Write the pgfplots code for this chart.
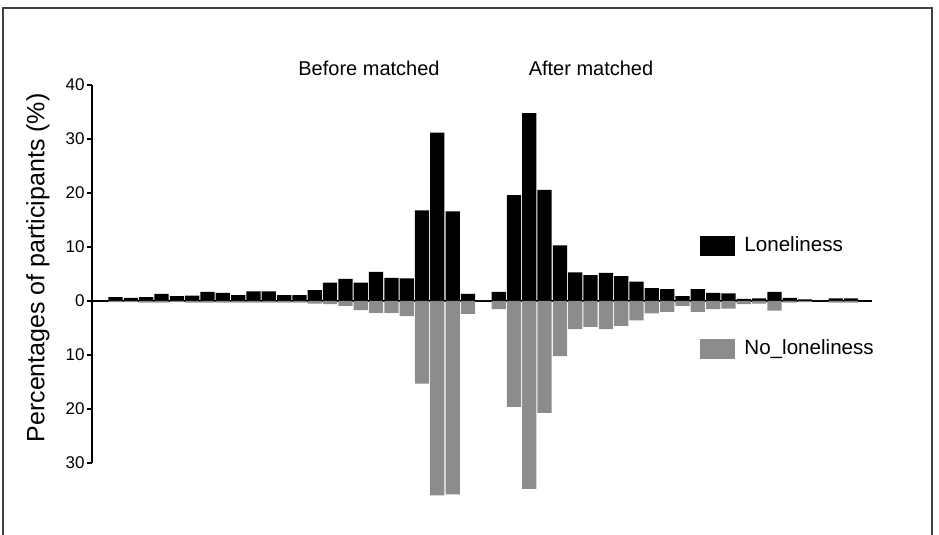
\documentclass[border=0pt]{standalone}
\usepackage{pgfplots}
\pgfplotsset{compat=1.18}
\usepackage{fontspec}
\setmainfont{Liberation Sans}
\definecolor{grayBar}{RGB}{140,140,140}
\begin{document}
\begin{tikzpicture}
\useasboundingbox (0pt,0pt) rectangle (469.5pt,267.5pt);
\draw[line width=0.8pt, black!75] (1.5pt,0pt) -- (1.5pt,263.5pt) -- (466pt,263.5pt) -- (466pt,0pt);
\begin{axis}[
  at={(46pt,36pt)}, anchor=south west,
  scale only axis, width=390pt, height=189pt,
  xmin=-0.54, xmax=50.37, ymin=-30, ymax=40,
  axis x line=middle, axis y line=left,
  axis line style={-, line width=0.6pt, black},
  xtick=\empty,
  ytick={-30,-20,-10,0,10,20,30,40},
  yticklabels={30,20,10,0,10,20,30,40},
  tick align=outside, major tick length=2.5pt,
  tick style={line width=0.6pt, black},
  yticklabel style={font=\fontsize{8.5}{10}\selectfont, inner sep=1pt},
  /pgf/number format/assume math mode=true,
  ybar, bar width=0.93, bar shift=0pt,
  clip=false,
  legend style={at={(0.7795,0.61)}, anchor=north west, draw=none, fill=none,
    inner sep=0pt, row sep=38.5pt, font=\fontsize{10.3}{12}\selectfont, cells={anchor=west},
    /tikz/every odd column/.append style={column sep=2.5pt}},
  legend image code/.code={\fill[#1] (0pt,-5pt) rectangle (17.5pt,5pt);},
]
\addplot[fill=black, draw=none, bar shift=0pt] coordinates {
(1,0.7) (2,0.6) (3,0.7) (4,1.3) (5,0.9) (6,1.0) (7,1.7) (8,1.5) (9,1.1) (10,1.8)
(11,1.8) (12,1.1) (13,1.1) (14,2.0) (15,3.4) (16,4.1) (17,3.4) (18,5.4) (19,4.3) (20,4.2)
(21,16.8) (22,31.2) (23,16.6) (24,1.3) (25,0) (26,1.7) (27,19.6) (28,34.8) (29,20.6) (30,10.3)
(31,5.3) (32,4.8) (33,5.2) (34,4.6) (35,3.6) (36,2.4) (37,2.2) (38,0.9) (39,2.2) (40,1.5)
(41,1.4) (42,0.4) (43,0.5) (44,1.7) (45,0.6) (46,0.3) (47,0) (48,0.5) (49,0.5)
};
\addlegendentry{Loneliness}
\addplot[fill=grayBar, draw=none, bar shift=0pt] coordinates {
(1,-0.2) (2,-0.2) (3,-0.3) (4,-0.3) (5,-0.2) (6,-0.3) (7,-0.3) (8,-0.3) (9,-0.3) (10,-0.3)
(11,-0.3) (12,-0.3) (13,-0.3) (14,-0.5) (15,-0.6) (16,-0.9) (17,-1.7) (18,-2.2) (19,-2.2) (20,-2.8)
(21,-15.3) (22,-36.0) (23,-35.8) (24,-2.4) (25,0) (26,-1.5) (27,-19.6) (28,-34.8) (29,-20.7) (30,-10.2)
(31,-5.2) (32,-4.8) (33,-5.2) (34,-4.6) (35,-3.6) (36,-2.3) (37,-2.0) (38,-0.9) (39,-2.0) (40,-1.5)
(41,-1.4) (42,-0.6) (43,-0.5) (44,-1.8) (45,-0.3) (46,-0.2) (47,0) (48,-0.3) (49,-0.3)
};
\addlegendentry{No\_loneliness}
\end{axis}
\node[font=\fontsize{10}{12}\selectfont] at (184.5pt,233.5pt) {Before matched};
\node[font=\fontsize{10}{12}\selectfont] at (295.5pt,233.5pt) {After matched};
\node[rotate=90, font=\fontsize{12.5}{14}\selectfont] at (19pt,133.5pt) {Percentages of participants (\%)};
\end{tikzpicture}
\end{document}
